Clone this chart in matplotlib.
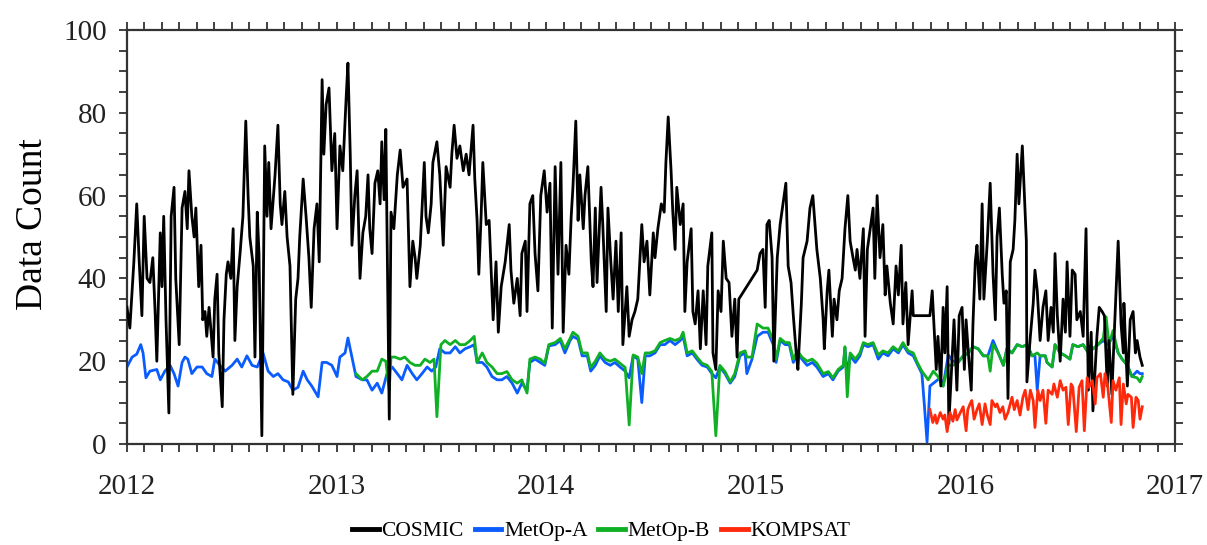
import numpy as np
import matplotlib
matplotlib.use("Agg")
from matplotlib import pyplot as plt
from matplotlib.ticker import MultipleLocator

# daily RO profile counts, day = days since 2012-01-01
cosmic_day = [0, 5, 12, 17, 21, 26, 30, 35, 40, 45, 49, 52, 58, 61, 64, 68, 73, 77, 82, 85,
              91, 96, 101, 105, 108, 113, 117, 120, 125, 129, 132, 136, 139, 143, 146, 150, 153, 157, 160, 166,
              169, 173, 176, 181, 185, 188, 192, 197, 202, 207, 211, 214, 220, 223, 227, 230, 235, 240, 244, 247,
              251, 258, 263, 267, 270, 275, 279, 284, 289, 294, 298, 301, 307, 312, 317, 321, 326, 331, 335, 340,
              343, 347, 352, 357, 362, 366, 371, 376, 382, 385, 389, 392, 397, 401, 406, 411, 416, 420, 423, 427,
              432, 437, 441, 444, 448, 451, 457, 460, 465, 471, 476, 481, 488, 493, 498, 502, 505, 511, 518, 521,
              525, 530, 533, 540, 545, 551, 556, 563, 566, 570, 575, 580, 586, 591, 596, 603, 606, 610, 613, 617,
              620, 626, 631, 638, 643, 647, 652, 659, 666, 669, 674, 680, 685, 688, 694, 697, 702, 707, 711, 716,
              721, 727, 732, 737, 741, 746, 751, 756, 760, 765, 770, 774, 777, 782, 786, 789, 795, 798, 803, 809,
              812, 816, 819, 826, 829, 835, 838, 843, 847, 852, 856, 861, 864, 871, 875, 880, 885, 890, 897, 901,
              906, 911, 917, 920, 925, 931, 936, 939, 943, 948, 951, 955, 958, 964, 969, 972, 976, 983, 986, 990,
              995, 999, 1004, 1009, 1012, 1019, 1021, 1026, 1030, 1035, 1039, 1044, 1049, 1054, 1059, 1063, 1066, 1098, 1103, 1108,
              1112, 1115, 1119, 1124, 1127, 1133, 1138, 1143, 1148, 1152, 1157, 1161, 1166, 1169, 1175, 1178, 1185, 1190, 1195, 1202,
              1208, 1213, 1215, 1220, 1223, 1229, 1232, 1237, 1241, 1246, 1251, 1256, 1260, 1265, 1269, 1272, 1277, 1283, 1286, 1290,
              1295, 1300, 1303, 1307, 1312, 1317, 1321, 1324, 1330, 1335, 1340, 1344, 1349, 1352, 1357, 1361, 1368, 1370, 1399, 1403,
              1406, 1410, 1413, 1418, 1422, 1425, 1429, 1432, 1438, 1441, 1446, 1450, 1455, 1459, 1462, 1466, 1471, 1474, 1478, 1481,
              1486, 1490, 1493, 1499, 1504, 1509, 1513, 1516, 1520, 1525, 1528, 1532, 1535, 1539, 1544, 1547, 1551, 1554, 1560, 1563,
              1567, 1568, 1574, 1579, 1582, 1586, 1591, 1596, 1601, 1605, 1610, 1614, 1617, 1621, 1626, 1631, 1635, 1638, 1643, 1647,
              1652, 1655, 1661, 1666, 1671, 1675, 1680, 1683, 1690, 1694, 1699, 1703, 1708, 1711, 1716, 1720, 1727, 1732, 1736, 1737,
              1743, 1748, 1753, 1757, 1760, 1765, 1769]
cosmic_count = [33, 28, 44, 58, 45, 31, 55, 40, 39, 45, 32, 20, 51, 38, 55, 30, 7.5, 55, 62, 40,
                24, 57, 61, 52, 66, 55, 50, 57, 38, 48, 30, 32, 26, 33, 28, 21, 35, 41, 22, 9,
                30, 41, 44, 40, 52, 25, 38, 46, 55, 78, 60, 50, 43, 21, 56, 46, 2, 72, 55, 68,
                52, 65, 77, 58, 53, 61, 50, 43, 12, 35, 40, 50, 64, 55, 45, 33, 52, 58, 44, 88,
                70, 82, 86, 66, 75, 52, 72, 66, 84, 92, 70, 48, 60, 66, 40, 51, 55, 65, 52, 46,
                63, 66, 58, 73, 59, 76, 6, 56, 52, 65, 71, 62, 64, 38, 49, 45, 40, 48, 68, 55,
                51, 58, 68, 73, 65, 48, 67, 62, 70, 77, 69, 72, 66, 70, 65, 77, 64, 54, 41, 55,
                68, 53, 54, 30, 44, 27, 38, 44, 53, 42, 34, 40, 31, 46, 49, 32, 58, 60, 46, 37,
                60, 66, 56, 63, 28, 67, 41, 68, 27, 48, 41, 55, 62, 78, 54, 65, 52, 60, 67, 44,
                38, 57, 39, 62, 53, 32, 57, 44, 35, 49, 32, 51, 24, 38, 26, 30, 32, 35, 53, 44,
                49, 36, 51, 45, 52, 58, 56, 68, 79, 66, 56, 47, 62, 53, 58, 32, 44, 52, 32, 29,
                37, 23, 37, 24, 43, 51, 22, 18, 37, 32, 49, 40, 39, 26, 35, 21, 35, 42, 46, 47,
                33, 53, 54, 45, 20, 45, 53, 58, 63, 43, 39, 31, 22, 18, 34, 45, 49, 57, 60, 47,
                40, 30, 23, 37, 42, 26, 35, 30, 37, 40, 52, 60, 49, 45, 42, 47, 40, 52, 26, 47,
                52, 57, 40, 60, 45, 53, 36, 43, 34, 29, 43, 36, 48, 29, 39, 24, 37, 31, 31, 37,
                29, 18, 26, 14, 33, 22, 38, 5, 22, 30, 13, 31, 33, 18, 30, 22, 13, 29, 44, 48,
                35, 58, 35, 49, 63, 41, 30, 50, 57, 41, 34, 37, 11, 44, 47, 54, 70, 58, 72, 62,
                49, 15, 26, 34, 42, 37, 25, 33, 37, 25, 33, 27, 46, 31, 20, 35, 27, 44, 26, 42,
                41, 30, 32, 26, 52, 13, 27, 8, 26, 33, 32, 31, 14, 25, 12, 26, 49, 29, 22, 34,
                14, 30, 32, 22, 25, 21, 19]

metopa_day = [0, 9, 17, 24, 28, 33, 40, 52, 58, 66, 75, 82, 89, 96, 101, 106, 113, 122, 131, 139,
              148, 153, 162, 171, 183, 192, 200, 209, 218, 227, 237, 246, 255, 263, 272, 281, 289, 298, 307, 314,
              322, 333, 340, 348, 357, 366, 371, 380, 385, 394, 399, 410, 418, 427, 436, 444, 453, 462, 471, 479,
              488, 497, 505, 514, 523, 531, 538, 545, 554, 563, 572, 580, 589, 598, 605, 610, 619, 627, 636, 645,
              653, 662, 671, 680, 688, 697, 702, 711, 720, 728, 735, 746, 755, 763, 772, 777, 786, 793, 802, 808,
              816, 824, 833, 842, 850, 859, 868, 875, 882, 890, 897, 903, 911, 920, 929, 937, 946, 955, 964, 969,
              976, 985, 993, 1002, 1011, 1019, 1026, 1033, 1042, 1051, 1059, 1068, 1077, 1080, 1089, 1098, 1108, 1117, 1126, 1131,
              1138, 1147, 1154, 1161, 1168, 1176, 1185, 1194, 1202, 1213, 1222, 1230, 1239, 1248, 1251, 1255, 1260, 1269, 1277, 1283,
              1291, 1300, 1309, 1317, 1326, 1335, 1344, 1352, 1361, 1370, 1378, 1385, 1389, 1394, 1399, 1408, 1417, 1422, 1431, 1439,
              1448, 1457, 1466, 1474, 1483, 1492, 1500, 1509, 1518, 1527, 1533, 1542, 1551, 1560, 1568, 1577, 1582, 1586, 1591, 1600,
              1603, 1612, 1617, 1626, 1635, 1643, 1648, 1657, 1666, 1675, 1683, 1692, 1701, 1709, 1718, 1727, 1734, 1743, 1751, 1760,
              1765, 1769]
metopa_count = [18.6, 21, 21.7, 24, 22, 16, 17.6, 18, 15.5, 17.6, 19, 17, 14, 19.7, 21, 20.5, 17, 18.6, 18.6, 17,
                16.3, 20.5, 19, 17.6, 19, 20.5, 18.6, 21.3, 19, 18.6, 22, 17.6, 16.3, 17, 15.5, 15, 13, 13.7, 17.6, 15.5,
                14, 11.4, 19.7, 19.7, 19, 16.3, 21, 22, 25.6, 19.7, 16.3, 15.5, 15.5, 13, 14.7, 12.3, 17, 18.6, 17, 15.5,
                19, 17, 15.5, 17, 18.6, 17.6, 18.6, 23, 22, 22, 23.5, 22, 23, 23.5, 24, 19.7, 19.7, 18.6, 16.3, 15.5,
                15.5, 16.3, 14.7, 12.3, 14.7, 13, 19.7, 20.5, 19.7, 19, 23.7, 24, 25, 22, 25, 26, 25.3, 21.3, 21.3, 17.6,
                19, 21.3, 19.7, 19, 19.7, 18.6, 17.6, 16, 21.3, 20.5, 10, 21.3, 21.3, 22, 24, 24, 25, 24, 25, 26,
                21.3, 22, 20.5, 19, 18.6, 17, 16, 18.6, 17, 14.7, 16.3, 21.3, 22, 17, 20.5, 26, 27, 27, 24, 19.7,
                25, 24, 24, 19.7, 22, 20.5, 19, 19.7, 18.6, 16.3, 17, 15.5, 17.6, 18.6, 23, 17, 21.3, 19.7, 21.3, 24,
                23.5, 24, 20.5, 22, 21.3, 23, 22, 24, 22, 21.3, 19, 17, 10, 0.5, 14, 15, 16, 14, 21.5, 20,
                19.7, 21.3, 22, 23.5, 23, 21.3, 21.3, 25, 22, 19, 23, 22, 24, 23.5, 24, 21.3, 21.3, 13, 21.3, 21.3,
                19.7, 18.6, 24, 22, 21.3, 20.5, 24, 23.5, 24, 22, 23, 24, 25, 24, 26, 22, 20.5, 19, 16.3, 17.6,
                17, 17]

metopb_day = [399, 410, 418, 427, 436, 444, 451, 457, 460, 467, 476, 484, 493, 502, 511, 519, 528, 535, 540, 547,
              554, 563, 572, 580, 589, 598, 605, 610, 619, 627, 636, 645, 653, 662, 671, 680, 688, 697, 702, 711,
              720, 728, 735, 746, 755, 763, 772, 777, 786, 793, 802, 808, 816, 824, 833, 842, 850, 859, 868, 875,
              882, 890, 897, 903, 911, 920, 929, 937, 946, 955, 964, 969, 976, 985, 993, 1002, 1011, 1019, 1026, 1033,
              1042, 1051, 1059, 1068, 1077, 1080, 1089, 1098, 1108, 1117, 1126, 1131, 1138, 1147, 1154, 1161, 1168, 1176, 1185, 1194,
              1202, 1213, 1222, 1230, 1239, 1248, 1251, 1255, 1260, 1269, 1277, 1283, 1291, 1300, 1309, 1317, 1326, 1335, 1344, 1352,
              1361, 1370, 1377, 1385, 1396, 1405, 1413, 1422, 1431, 1439, 1448, 1457, 1466, 1474, 1483, 1492, 1500, 1504, 1509, 1518,
              1527, 1533, 1542, 1551, 1560, 1568, 1577, 1586, 1591, 1600, 1603, 1612, 1617, 1626, 1635, 1643, 1648, 1657, 1666, 1675,
              1683, 1692, 1701, 1706, 1711, 1718, 1727, 1734, 1743, 1751, 1760, 1765, 1769]
metopb_count = [17, 15.5, 16.3, 17.6, 17.6, 20.5, 20, 13, 21, 21, 20.5, 21, 19.7, 19, 19, 20.5, 19.7, 20.5, 6.6, 24,
                25, 24, 25, 24, 24, 25, 26, 19.7, 22, 19.7, 18.6, 17, 17, 17.5, 15.5, 14.7, 15.5, 12.3, 20.5, 21,
                20.5, 19.5, 24, 24.5, 25.5, 23, 25.5, 27, 26, 22, 22, 18.5, 20, 22, 20.5, 20, 20.5, 19.5, 18.5, 4.6,
                21.5, 21, 17, 22, 22, 22.5, 24.5, 25, 25.5, 25, 25.5, 27, 22, 22.5, 21, 19.5, 19, 17.5, 2, 19,
                17.5, 15, 17, 22, 22.5, 21, 21, 29, 28, 28, 25, 20.5, 25.5, 24.5, 24.5, 20.5, 22.5, 21, 20, 20.5,
                19.5, 17, 17.5, 16, 18, 19, 23.5, 11.4, 22, 20.5, 22, 24.5, 24, 24.5, 21.5, 22.5, 22, 23.5, 22.5, 24.5,
                22.5, 22, 19.7, 17.6, 15.5, 17.6, 16.3, 14, 19, 19, 19.7, 21.3, 22, 23.5, 23, 21.3, 21.3, 17.6, 24, 22,
                19, 23, 22, 24, 23.5, 24, 21.3, 22, 21.3, 21.3, 19.7, 18.6, 24, 22, 21.3, 20.5, 24, 23.5, 24, 22,
                23, 24, 25.6, 30.7, 24, 27.4, 22, 20.5, 19, 16.3, 16, 15, 16.3]

kompsat_day = [1399, 1404, 1408, 1411, 1417, 1422, 1425, 1429, 1434, 1439, 1443, 1446, 1452, 1457, 1462, 1465, 1469, 1472, 1476, 1481,
               1485, 1490, 1495, 1499, 1504, 1507, 1513, 1516, 1521, 1526, 1530, 1535, 1542, 1546, 1551, 1556, 1561, 1565, 1570, 1574,
               1579, 1582, 1587, 1591, 1596, 1601, 1605, 1612, 1615, 1621, 1626, 1631, 1636, 1640, 1645, 1648, 1654, 1659, 1664, 1668,
               1673, 1676, 1682, 1687, 1690, 1696, 1701, 1704, 1709, 1715, 1718, 1723, 1729, 1732, 1736, 1741, 1744, 1750, 1753, 1758,
               1762, 1765, 1769]
kompsat_count = [8.3, 5.2, 7, 5, 7.6, 6, 7, 3, 7.6, 5.5, 8.3, 5.8, 7.6, 9, 3.2, 8.3, 9.7, 10.5, 6, 8.3,
                 9.7, 4.7, 9.7, 7, 4.7, 10.5, 9, 9.7, 7.6, 9, 6, 7.6, 11.3, 8.3, 10.5, 7, 11.3, 13, 8.3, 13,
                 10.5, 4, 13, 10.5, 13, 5, 13, 12, 14.5, 11.3, 15.3, 13, 13.7, 4.7, 14.5, 13.7, 3, 13.7, 15.3, 3.2,
                 16, 13.7, 15.3, 9.7, 16, 17, 11.3, 17, 13.7, 5.2, 15.3, 13, 16, 4.7, 14.5, 9.7, 12, 11.3, 4, 11.3,
                 10.5, 6, 9]


def to_year(days):
    return 2012 + np.asarray(days) / 365.25


plt.rcParams["font.family"] = ["Liberation Serif", "DejaVu Serif"]
edge = "#333333"

fig = plt.figure(figsize=(12.07, 5.45), dpi=100)
ax = fig.add_axes([0.1052, 0.1853, 0.8684, 0.7597])

lw = 2.0
ax.plot(to_year(metopa_day), metopa_count, color="#0a5cff", lw=lw, zorder=2, label="MetOp-A")
ax.plot(to_year(metopb_day), metopb_count, color="#10b025", lw=lw, zorder=3, label="MetOp-B")
ax.plot(to_year(cosmic_day), cosmic_count, color="black", lw=lw, zorder=4, label="COSMIC")
ax.plot(to_year(kompsat_day), kompsat_count, color="#ff2a0c", lw=lw, zorder=5, label="KOMPSAT")

ax.set_xlim(2012, 2017)
ax.set_ylim(0, 100)
ax.xaxis.set_major_locator(MultipleLocator(1))
ax.xaxis.set_minor_locator(MultipleLocator(1 / 12))
ax.yaxis.set_major_locator(MultipleLocator(20))
ax.yaxis.set_minor_locator(MultipleLocator(5))

for s in ax.spines.values():
    s.set_color(edge)
    s.set_linewidth(1.6)
ax.tick_params(which="both", direction="out", top=True, right=True, color=edge,
               length=5.5, width=1.3, labelsize=21, labelcolor="#222222")
ax.tick_params(axis="x", which="major", pad=16)
ax.tick_params(axis="y", which="major", pad=9)
ax.set_ylabel("Data Count", fontsize=27, labelpad=12)
ax.yaxis.set_label_coords(-0.073, 0.53)

handles, labels = ax.get_legend_handles_labels()
order = [labels.index(n) for n in ["COSMIC", "MetOp-A", "MetOp-B", "KOMPSAT"]]
leg = fig.legend([handles[i] for i in order], [labels[i] for i in order],
                 loc="center", bbox_to_anchor=(0.498, 0.025), ncol=4, frameon=False,
                 fontsize=15.5, handlelength=1.25, handletextpad=0.12, columnspacing=0.5)
for line in leg.get_lines():
    line.set_linewidth(3.5)

fig.savefig("out.png", dpi=100)
